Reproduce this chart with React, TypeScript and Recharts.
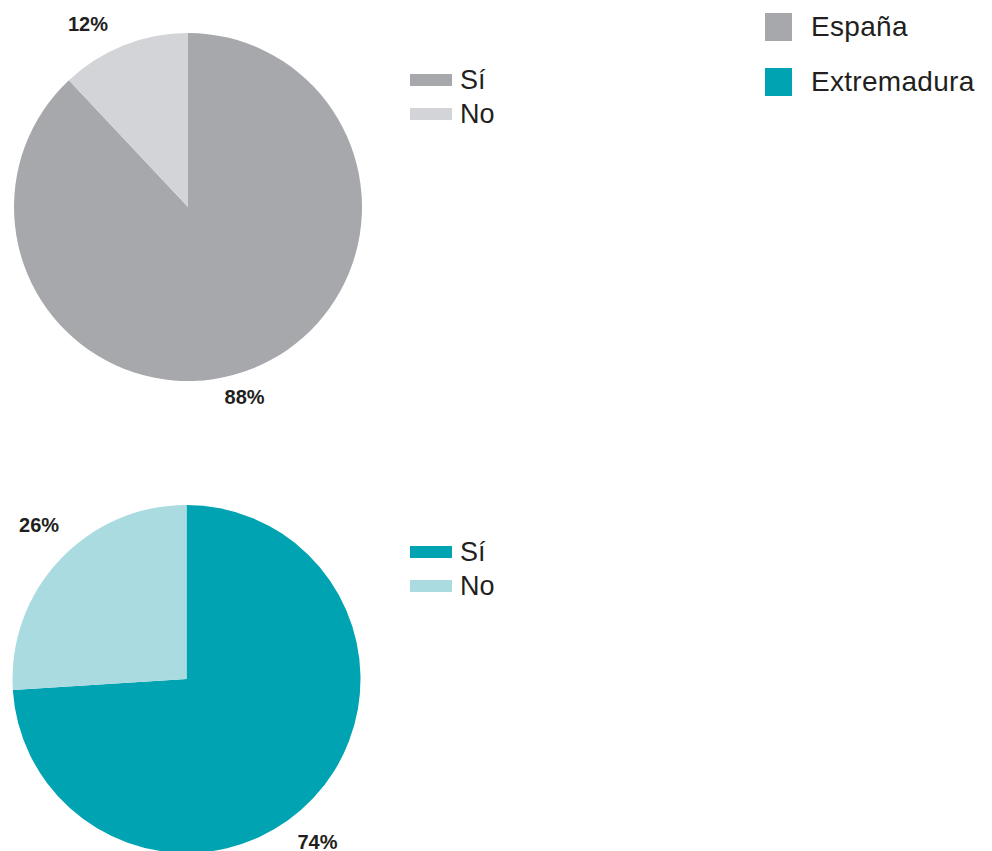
import React from "react";
import { PieChart, Pie, Cell, Legend } from "recharts";

// answer categories and shares (%)
const answers = ["Sí", "No"];
const espanaShares = [88, 12];
const extremaduraShares = [74, 26];
const regions = ["España", "Extremadura"];

const INK = "#231f20";
const FONT = "'Liberation Sans', Arial, sans-serif";
const GREYS = ["#a7a8ac", "#d3d4d7"];
const TEALS = ["#00a3b2", "#aadbe1"];

// label placement tweaks per slice: angle nudge (deg) and gap beyond the rim
const espanaNudge = [{ da: -5, dr: 24 }, { da: 7, dr: 35 }];
const extremaduraNudge = [{ da: -8, dr: 35 }, { da: -3, dr: 39 }];

const RAD = Math.PI / 180;

function makeLabel(nudge: { da: number; dr: number }[]) {
  return (p: any) => {
    const n = nudge[p.index] ?? { da: 0, dr: 30 };
    const a = (p.midAngle + n.da) * RAD;
    const r = p.outerRadius + n.dr;
    return (
      <text
        x={p.cx + r * Math.cos(a)}
        y={p.cy - r * Math.sin(a)}
        textAnchor="middle"
        dominantBaseline="central"
        fill={INK}
        fontFamily={FONT}
        fontWeight="bold"
        fontSize={20}
      >
        {`${p.value}%`}
      </text>
    );
  };
}

const AnswerLegend = ({ colors }: { colors: string[] }) => (
  <div style={{ fontFamily: FONT }}>
    {answers.map((a, i) => (
      <div key={a} style={{ display: "flex", alignItems: "center", height: 34 }}>
        <span style={{ width: 42, height: 12, background: colors[i], marginRight: 8 }} />
        <span style={{ fontSize: 27, color: INK, lineHeight: "34px" }}>{a}</span>
      </div>
    ))}
  </div>
);

function Block({ values, colors, nudge, cx, cy, height }: any) {
  const data = answers.map((name, i) => ({ name, value: values[i] }));
  return (
    <PieChart width={992} height={height} margin={{ top: 0, right: 0, bottom: 0, left: 0 }}>
      <Pie
        data={data}
        dataKey="value"
        nameKey="name"
        cx={cx}
        cy={cy}
        outerRadius={174}
        startAngle={90}
        endAngle={-270}
        stroke="none"
        label={makeLabel(nudge)}
        labelLine={false}
        isAnimationActive={false}
      >
        {data.map((d, i) => (
          <Cell key={d.name} fill={colors[i]} />
        ))}
      </Pie>
      <Legend
        layout="vertical"
        content={() => <AnswerLegend colors={colors} />}
        wrapperStyle={{ position: "absolute", left: 410, top: 63, width: 120 }}
      />
    </PieChart>
  );
}

export default function App() {
  return (
    <div style={{ position: "absolute", left: 0, top: 0, width: 992, height: 851, background: "#fff", overflow: "hidden" }}>
      <div style={{ position: "absolute", left: 0, top: 0 }}>
        <Block values={espanaShares} colors={GREYS} nudge={espanaNudge} cx={188} cy={207} height={425} />
      </div>
      <div style={{ position: "absolute", left: 0, top: 472 }}>
        <Block values={extremaduraShares} colors={TEALS} nudge={extremaduraNudge} cx={186.5} cy={207} height={379} />
      </div>
      <div style={{ position: "absolute", left: 765, top: 13, fontFamily: FONT }}>
        {regions.map((r, i) => (
          <div key={r} style={{ display: "flex", alignItems: "center", height: 28, marginBottom: 27 }}>
            <span style={{ width: 27, height: 28, background: [GREYS[0], TEALS[0]][i], marginRight: 19 }} />
            <span style={{ fontSize: 28, color: INK, lineHeight: "28px", letterSpacing: 0.3 }}>{r}</span>
          </div>
        ))}
      </div>
    </div>
  );
}
